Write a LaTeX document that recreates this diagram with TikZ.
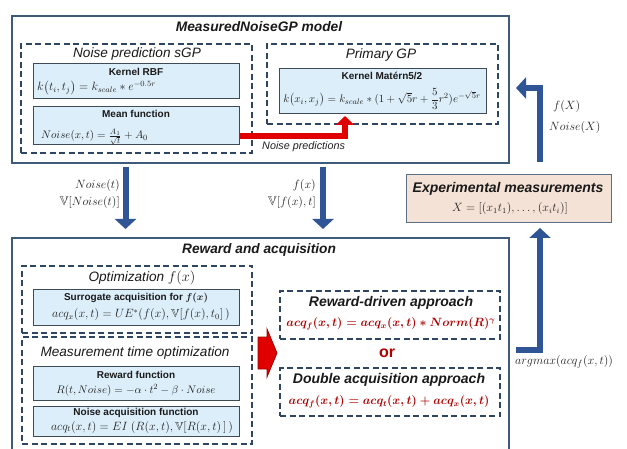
\documentclass[tikz,border=0pt]{standalone}
\usepackage{amsmath,amssymb}
\usepackage[no-math]{fontspec}
\setmainfont{Liberation Sans}
\usetikzlibrary{arrows.meta}
\definecolor{frame}{HTML}{3E5B7A}
\definecolor{dashc}{HTML}{2E4662}
\definecolor{boxfill}{HTML}{DCEEFA}
\definecolor{boxline}{HTML}{3F4A57}
\definecolor{peach}{HTML}{F5E2D6}
\definecolor{peachline}{HTML}{5B7088}
\definecolor{arrowblue}{HTML}{2F5597}
\definecolor{redfill}{HTML}{E00000}
\definecolor{redline}{HTML}{9A0000}
\definecolor{darkred}{HTML}{B00000}
\definecolor{txt}{HTML}{1A1A1A}
\definecolor{ftxt}{HTML}{222222}
\tikzset{
  outerbox/.style={draw=frame, line width=2pt, anchor=north west, inner sep=0pt},
  dashbox/.style={draw=dashc, line width=2pt, dash pattern=on 6pt off 3.5pt, anchor=north west, inner sep=0pt},
  infobox/.style={draw=boxline, fill=boxfill, line width=1pt, anchor=north west, inner sep=0pt},
  expbox/.style={draw=peachline, fill=peach, line width=1.2pt, anchor=north west, inner sep=0pt},
  bigtitle/.style={text=txt, font=\fontsize{13.8}{16}\selectfont\bfseries\itshape, inner sep=0pt},
  subtitle/.style={text=txt, font=\fontsize{13.6}{16}\selectfont\itshape, inner sep=0pt},
  boxtitle/.style={text=txt, font=\fontsize{10}{12}\selectfont\bfseries, inner sep=0pt},
  formula/.style={text=ftxt, font=\fontsize{11.6}{13}\selectfont, inner sep=0pt},
  redformula/.style={text=darkred, font=\fontsize{12}{14}\selectfont, inner sep=0pt},
  label/.style={text=ftxt, font=\fontsize{12.5}{14}\selectfont, inner sep=0pt},
  bluearrow/.style={draw=arrowblue, line width=6pt, line join=miter, -{Triangle[width=21pt,length=10pt]}},
  redarrow/.style={draw=redfill, line width=6pt, line join=miter, -{Triangle[width=18pt,length=9pt]}},
}
\begin{document}
\begin{tikzpicture}[x=1pt,y=-1pt]
\useasboundingbox (0,0) rectangle (627,449);
\clip (0,0) rectangle (627,449);
\fill[white] (0,0) rectangle (627,449);

% ---------- MeasuredNoiseGP model ----------
\node[outerbox, minimum width=497pt, minimum height=147pt] (model) at (11,15) {};
\node[bigtitle] (modeltitle) at (259,27) {MeasuredNoiseGP model};

\node[dashbox, minimum width=231pt, minimum height=109pt] (sgp) at (20,43) {};
\node[subtitle] (sgptitle) at (137,54) {Noise prediction sGP};
\node[infobox, minimum width=206pt, minimum height=35pt] (rbf) at (33,63) {};
\node[boxtitle] (rbftitle) at (136,72) {Kernel RBF};
\node[formula, anchor=west] (rbfeq) at (37,88) {$k\big(t_i,t_j\big)=k_{scale}*e^{-0.5r}$};
\node[infobox, minimum width=206pt, minimum height=38pt] (mean) at (33,106) {};
\node[boxtitle] (meantitle) at (136,113.5) {Mean function};
\node[formula, anchor=west, font=\fontsize{11.2}{13}\selectfont] (meaneq) at (41,137) {$Noise(x,t)=\frac{A_1}{\sqrt{t}}+A_0$};

\node[dashbox, minimum width=231pt, minimum height=80pt] (pgp) at (266,43) {};
\node[subtitle] (pgptitle) at (381,55) {Primary GP};
\node[infobox, minimum width=207pt, minimum height=45pt] (matern) at (279,68) {};
\node[boxtitle] (materntitle) at (382,76) {Kernel Matérn5/2};
\node[formula, font=\fontsize{11}{13}\selectfont] (materneq) at (382,99) {$k\big(x_i,x_j\big)=k_{scale}*(1+\sqrt{5}r+\dfrac{5}{3}r^2)e^{-\sqrt{5}r}$};

% red arrow noise predictions
\coordinate (rA) at (239,136);
\coordinate (rB) at (345,136);
\coordinate (rC) at (345,116);
\draw[redarrow] (mean.east |- rA) -- (rB) -- (rC);
\node[anchor=west, text=ftxt, font=\fontsize{10.8}{12}\selectfont\itshape, inner sep=0pt] (np) at (262,147) {Noise predictions};

% ---------- Experimental measurements ----------
\node[expbox, minimum width=205pt, minimum height=48pt] (exp) at (406,174) {};
\node[text=txt, font=\fontsize{14}{16}\selectfont\bfseries\itshape, inner sep=0pt] (exptitle) at (508,189) {Experimental measurements};
\node[formula, font=\fontsize{11.5}{13}\selectfont] (expeq) at (510,209) {$X=[(x_1t_1),\ldots,(x_it_i)]$};

% ---------- Reward and acquisition ----------
\node[outerbox, minimum width=497pt, minimum height=240pt] (reward) at (11,237) {};
\node[text=txt, font=\fontsize{13.7}{16}\selectfont\bfseries\itshape, inner sep=0pt] (rewardtitle) at (259,250) {Reward and acquisition};

\node[dashbox, minimum width=230pt, minimum height=67pt] (opt) at (21,265) {};
\node[subtitle] (opttitle) at (142,278) {Optimization $f(x)$};
\node[infobox, minimum width=206pt, minimum height=36pt] (surr) at (33,289) {};
\node[boxtitle] (surrtitle) at (136,298) {Surrogate acquisition for $\boldsymbol{f(x)}$};
\node[formula] (surreq) at (141,315) {$acq_x(x,t)=UE^{*}(f(x),\mathbb{V}[f(x),t_0]\,)$};

\node[dashbox, minimum width=230pt, minimum height=107pt] (meas) at (21,336) {};
\node[subtitle] (meastitle) at (135,353) {Measurement time optimization};
\node[infobox, minimum width=206pt, minimum height=34pt] (rfun) at (33,366) {};
\node[boxtitle] (rfuntitle) at (136,375) {Reward function};
\node[formula, font=\fontsize{11.2}{13}\selectfont] (rfuneq) at (136,390) {$R(t,Noise)=-\alpha\cdot t^2-\beta\cdot Noise$};
\node[infobox, minimum width=206pt, minimum height=30pt] (nacq) at (33,406) {};
\node[boxtitle] (nacqtitle) at (136,413) {Noise acquisition function};
\node[formula] (nacqeq) at (142,427) {$acq_t(x,t)=EI\ (R(x,t),\mathbb{V}[R(x,t)\,]\,)$};

% big red block arrow
\filldraw[fill=redfill, draw=redline, line width=0.8pt]
  (258,337) -- (267,337) -- (267,329) -- (277,353) -- (267,377) -- (267,369) -- (258,369) -- cycle;

\node[dashbox, minimum width=220pt, minimum height=48pt] (rd) at (279,290) {};
\node[text=txt, font=\fontsize{14}{16}\selectfont\bfseries\itshape, inner sep=0pt] (rdtitle) at (391,303) {Reward-driven approach};
\node[redformula] (rdeq) at (391,324) {$\boldsymbol{acq_f(x,t)=acq_x(x,t)*Norm(R)^{\gamma}}$};
\node[text=darkred, font=\fontsize{16}{18}\selectfont\bfseries, inner sep=0pt] (or) at (387,353) {or};
\node[dashbox, minimum width=220pt, minimum height=48pt] (da) at (279,367) {};
\node[text=txt, font=\fontsize{14}{16}\selectfont\bfseries\itshape, inner sep=0pt] (datitle) at (389,380) {Double acquisition approach};
\node[redformula] (daeq) at (389,402) {$\boldsymbol{acq_f(x,t)=acq_t(x,t)+acq_x(x,t)}$};

% ---------- blue arrows ----------
\coordinate (d1s) at (125.5,167);
\coordinate (d1e) at (125.5,229);
\draw[bluearrow] (d1s) -- (d1e);
\node[label, anchor=east] (l1a) at (120,186) {$Noise(t)$};
\node[label, anchor=east] (l1b) at (120,203) {$\mathbb{V}[Noise(t)]$};

\coordinate (d2s) at (323,167);
\coordinate (d2e) at (323,229);
\draw[bluearrow] (d2s) -- (d2e);
\node[label, anchor=east] (l2a) at (316,186) {$f(x)$};
\node[label, anchor=east] (l2b) at (316,203) {$\mathbb{V}[f(x),t]$};

\coordinate (u1s) at (540,162);
\coordinate (u1m) at (540,88);
\coordinate (u1e) at (516,88);
\draw[bluearrow] (u1s) -- (u1m) -- (u1e);
\node[label, anchor=west] (l3a) at (553,107) {$f(X)$};
\node[label, anchor=west] (l3b) at (549,128) {$Noise(X)$};

\coordinate (u2s) at (516,350);
\coordinate (u2m) at (540,350);
\coordinate (u2e) at (540,228);
\draw[bluearrow] (u2s) -- (u2m) -- (u2e);
\node[label, anchor=west, font=\fontsize{13}{15}\selectfont] (l4) at (515,362) {$argmax(acq_f(x,t))$};
\end{tikzpicture}
\end{document}
